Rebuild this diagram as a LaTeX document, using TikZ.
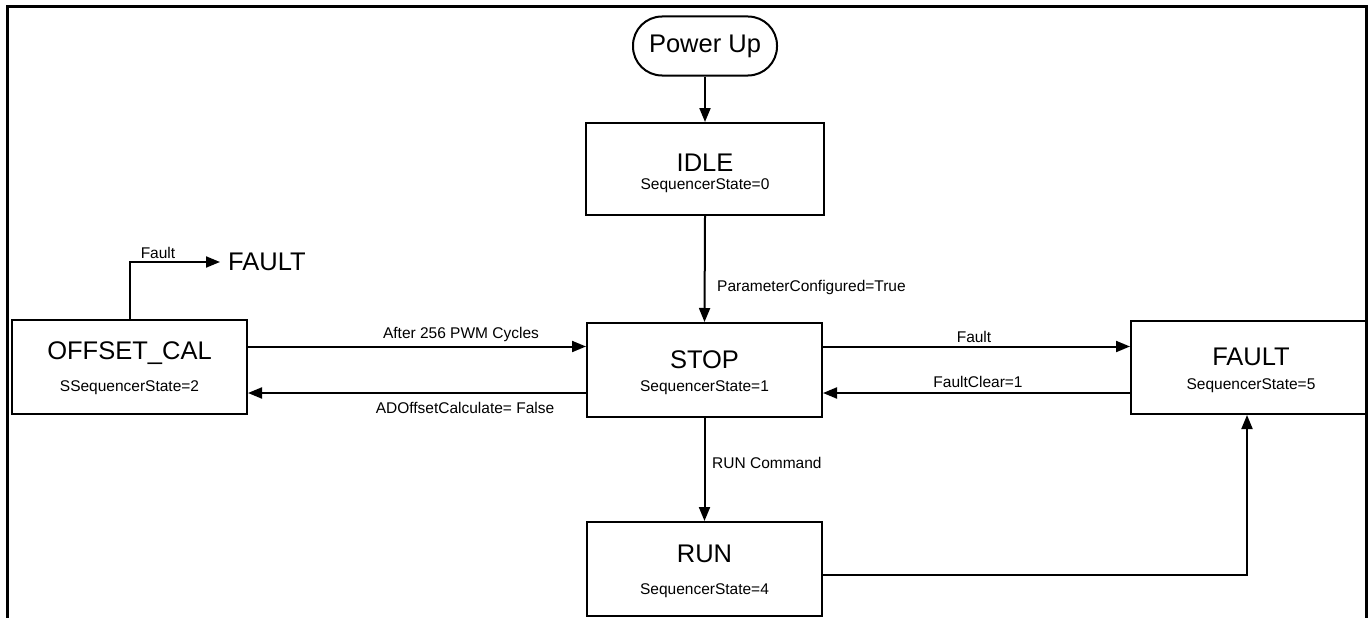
\documentclass[tikz,border=0pt]{standalone}
\usepackage{fontspec}
\setmainfont{Liberation Sans}
\usetikzlibrary{arrows.meta,calc}
\begin{document}
\begin{tikzpicture}[x=1pt,y=-1pt,
  state/.style={draw,line width=2pt,minimum width=235pt,minimum height=94pt,inner sep=0pt},
  term/.style={draw,line width=2pt,rounded corners=29pt,minimum width=144pt,minimum height=59pt,inner sep=0pt,font=\fontsize{25.5}{30}\selectfont},
  big/.style={font=\fontsize{25.5}{30}\selectfont,inner sep=0pt},
  small/.style={font=\fontsize{15.5}{18}\selectfont,inner sep=0pt},
  lab/.style={font=\fontsize{15.5}{18}\selectfont,inner sep=0pt},
  arr/.style={line width=2pt,-{Triangle[length=14pt,width=11pt]}},
  ln/.style={line width=2pt}]
\useasboundingbox (0,0) rectangle (1370,618);
\draw[line width=3pt] (7,618) -- (7,7) -- (1366,7) -- (1366,618);

% states
\node[term] (pwr) at (705,46) {Power Up};
\node[state,minimum width=238pt,minimum height=92pt] (idle) at (705,169) {};
\node[state] (stop) at (704.5,370) {};
\node[state] (off) at (129.5,367) {};
\node[state,minimum height=93pt] (flt) at (1248.5,367.5) {};
\node[state] (run) at (704.5,569) {};

% state texts
\node[big] (idleT) at (705,163) {IDLE};
\node[small] (idleS) at (705,186) {SequencerState=0};
\node[big] (stopT) at (704.5,360) {STOP};
\node[small] (stopS) at (704.5,388) {SequencerState=1};
\node[big] (offT) at (129.5,353) {OFFSET\_CAL};
\node[small] (offS) at (129.5,388) {SSequencerState=2};
\node[big] (fltT) at (1251,357) {FAULT};
\node[small] (fltS) at (1251,386) {SequencerState=5};
\node[big] (runT) at (704.5,554) {RUN};
\node[small] (runS) at (704.5,591) {SequencerState=4};

% helper levels
\coordinate (yA) at (0,346.5);
\coordinate (yB) at (0,393);
\coordinate (yR) at (0,575);
\coordinate (xF) at (1247,0);

% connectors
\draw[arr] (pwr.south) -- (idle.north);
\draw[arr] (idle.south) -- (stop.north);
\node[lab,anchor=west] (lPC) at (717,287) {ParameterConfigured=True};

\draw[arr] (off.east |- yA) -- (stop.west |- yA);
\node[lab] (lAfter) at (461,334) {After 256 PWM Cycles};
\draw[arr] (stop.west |- yB) -- (off.east |- yB);
\node[lab] (lAD) at (465,408) {ADOffsetCalculate= False};

\draw[arr] (stop.east |- yA) -- (flt.west |- yA);
\node[lab] (lF) at (974,337) {Fault};
\draw[arr] (flt.west |- yB) -- (stop.east |- yB);
\node[lab] (lFC) at (978,382) {FaultClear=1};

\draw[arr] (stop.south) -- (run.north);
\node[lab,anchor=west] (lRC) at (712,463) {RUN Command};

\draw[arr] (run.east |- yR) -- (xF |- yR) -- (xF |- flt.south);

\node[big,anchor=west,inner xsep=8pt] (fltX) at (220,262) {FAULT};
\draw[arr] (off.north) |- (fltX.west);
\node[lab] (lF2) at (158,253) {Fault};
\end{tikzpicture}
\end{document}
